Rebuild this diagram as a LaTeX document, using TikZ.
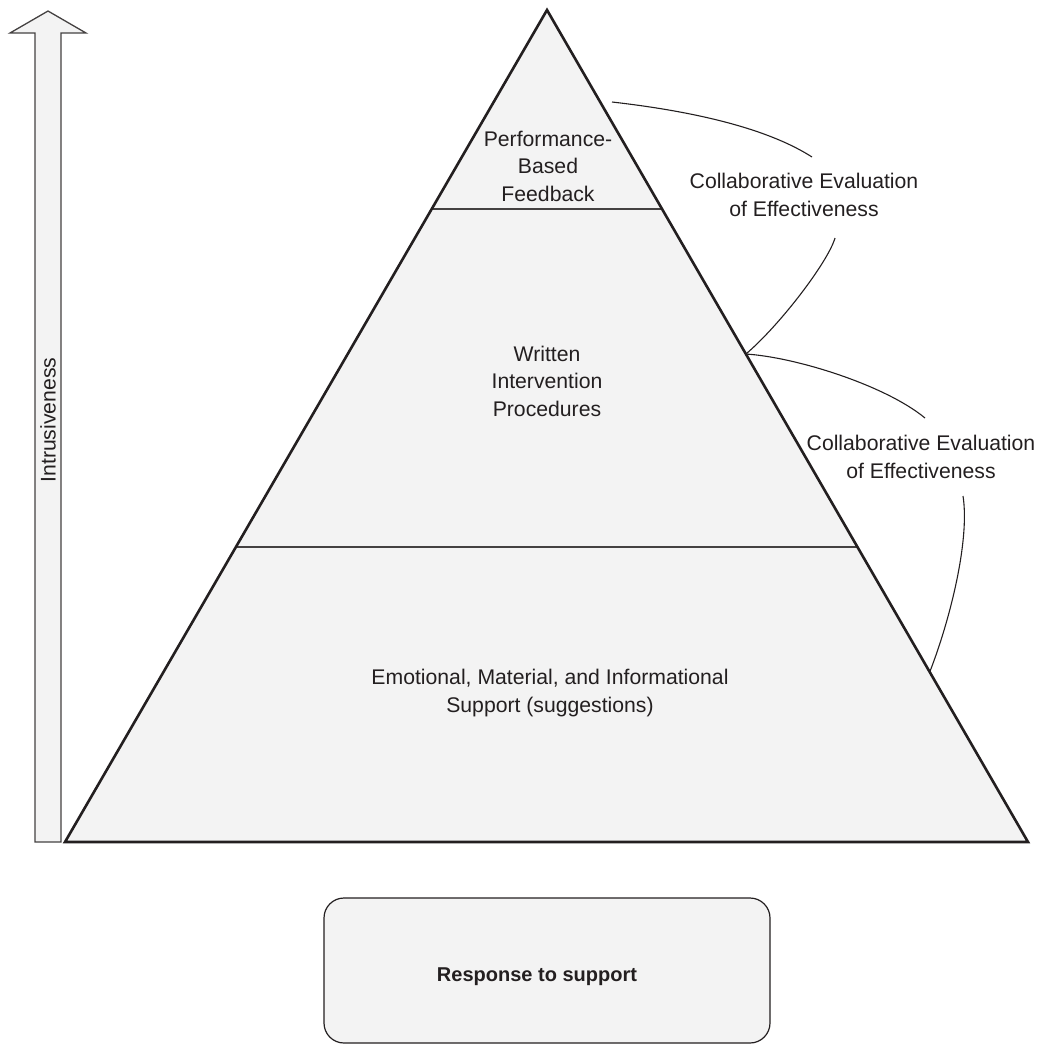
\documentclass[tikz,border=0pt]{standalone}
\usepackage{fontspec}
\setmainfont{Liberation Sans}
\usetikzlibrary{calc}
\definecolor{panel}{HTML}{F3F3F3}
\definecolor{ink}{HTML}{231F20}
\begin{document}
\begin{tikzpicture}[x=1pt,y=-1pt,
  label text/.style={font=\fontsize{21.2}{27.5}\selectfont, text=ink, align=center, inner sep=0pt},
  tier line/.style={line width=1.6pt, draw=ink!85},
  link/.style={line width=1.1pt, draw=ink},
]
\useasboundingbox (0,0) rectangle (1040,1045);

% upward arrow: scale of intrusiveness
\draw[fill=panel, draw=ink!85, line width=1.3pt, line join=miter]
  (35,842) -- (35,33) -- (10,33) -- (48,11) -- (86,33) -- (61,33) -- (61,842) -- cycle;
\node[label text, rotate=90] (intr) at (48,420) {Intrusiveness};

% pyramid of support tiers
\coordinate (apex) at (547,10);
\coordinate (bl) at (65,842);
\coordinate (br) at (1028,842);
\fill[panel] (apex) -- (bl) -- (br) -- cycle;
\draw[tier line] ($(apex)!0.2392!(bl)$) -- ($(apex)!0.2392!(br)$);
\draw[tier line] ($(apex)!0.6454!(bl)$) -- ($(apex)!0.6454!(br)$);
\draw[line width=2.6pt, draw=ink, line join=miter] (apex) -- (bl) -- (br) -- cycle;

\node[label text] (top) at (548,166) {Performance-\\Based\\Feedback};
\node[label text] (mid) at (547,381) {Written\\Intervention\\Procedures};
\node[label text] (base) at (550,693) {Emotional, Material, and Informational\\Support (suggestions)};

% evaluation loops on the right side
\coordinate (e1) at (612,102);
\coordinate (e2) at ($(apex)!0.4135!(br)$);
\coordinate (e3) at ($(apex)!0.7957!(br)$);
\node[label text] (eval1) at (804,195) {Collaborative Evaluation\\of Effectiveness};
\node[label text] (eval2) at (921,457) {Collaborative Evaluation\\of Effectiveness};

\draw[link] (e1) .. controls (700,112) and (770,130) .. (812,157);
\draw[link] (835,238) .. controls (828,262) and (780,325) .. (e2);
\draw[link] (e2) .. controls (795,357) and (885,385) .. (925,418);
\draw[link] (963,496) .. controls (970,540) and (950,620) .. (e3);

% outcome box
\node[draw=ink, line width=1.2pt, fill=panel, rounded corners=20pt,
      minimum width=446pt, minimum height=145pt, inner sep=0pt] (box) at (547,970.5) {};
\node[font=\fontsize{20}{24}\selectfont\bfseries, text=ink, inner sep=0pt] (resp) at (537,977) {Response to support};
\end{tikzpicture}
\end{document}
